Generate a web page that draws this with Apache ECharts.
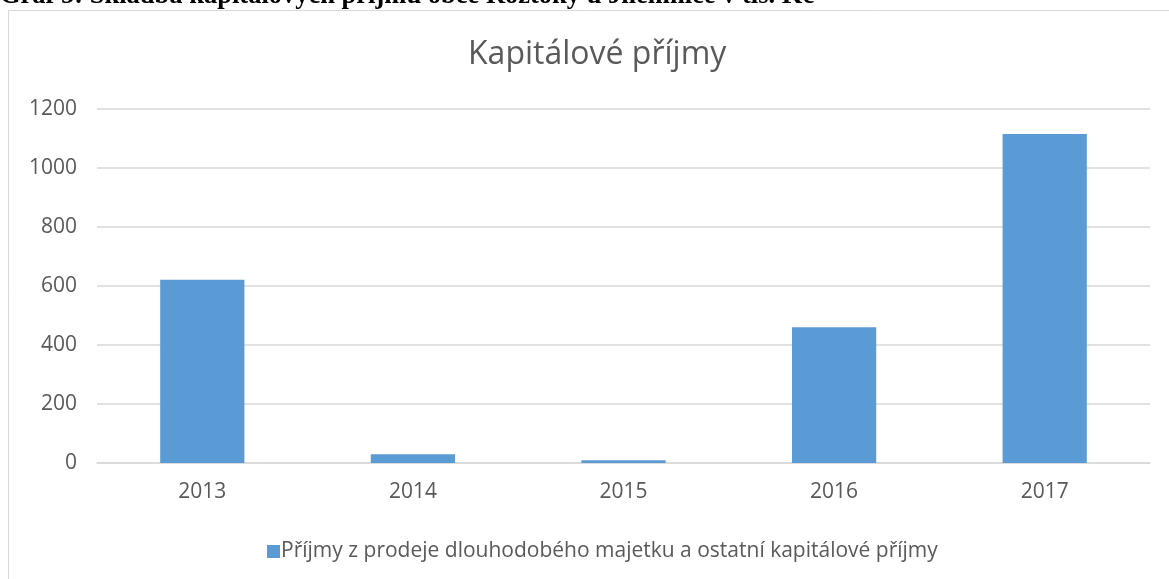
<!DOCTYPE html>
<html>
<head>
<meta charset="utf-8">
<script src="https://cdn.jsdelivr.net/npm/echarts@6/dist/echarts.min.js"></script>
<style>
  html, body { margin: 0; padding: 0; background: #fff; }
  #main { width: 1169px; height: 579px; }
</style>
</head>
<body>
<div id="main"></div>
<script>
// data
var years = ['2013', '2014', '2015', '2016', '2017'];
var prijmy = [621, 30, 9, 460, 1115];
var seriesName = 'Příjmy z prodeje dlouhodobého majetku a ostatní kapitálové příjmy';
var caption = 'Graf 5: Skladba kapitálových příjmů obce Roztoky u Jilemnice v tis. Kč';

var myChart = echarts.init(document.getElementById('main'));
var textColor = '#595959';
var gridColor = '#D9D9D9';

var option = {
  backgroundColor: '#fff',
  animation: false,
  title: {
    text: 'Kapitálové příjmy',
    left: 463,
    top: 34,
    textStyle: {
      fontFamily: 'Open Sans',
      fontWeight: 'normal',
      fontSize: 32,
      color: textColor
    }
  },
  graphic: [
    {
      // ramecek grafu
      type: 'rect',
      shape: { x: 8.5, y: 10.5, width: 1300, height: 700 },
      style: { fill: 'none', stroke: gridColor, lineWidth: 1 },
      silent: true
    },
    {
      // popisek nad grafem (oriznuty)
      type: 'text',
      left: 0,
      top: -17,
      style: {
        text: caption,
        fontFamily: 'Liberation Serif',
        fontWeight: 'bold',
        fontSize: 26.5,
        fill: '#000'
      }
    }
  ],
  legend: {
    left: 262,
    top: 536,
    icon: 'rect',
    itemWidth: 13,
    itemHeight: 13,
    textStyle: {
      fontFamily: 'Open Sans',
      fontSize: 21,
      color: textColor,
      padding: [0, 0, 0, -4]
    },
    data: [seriesName]
  },
  grid: {
    left: 97,
    right: 19,
    top: 109,
    bottom: 116
  },
  xAxis: {
    type: 'category',
    data: years,
    axisLine: { lineStyle: { color: gridColor, width: 1.5 } },
    axisTick: { show: false },
    axisLabel: {
      margin: 19,
      fontFamily: 'Open Sans',
      fontSize: 21,
      color: textColor
    }
  },
  yAxis: {
    type: 'value',
    min: 0,
    max: 1200,
    interval: 200,
    axisLine: { show: false },
    axisTick: { show: false },
    splitLine: { lineStyle: { color: gridColor, width: 1.5 } },
    axisLabel: {
      margin: 20,
      fontFamily: 'Open Sans',
      fontSize: 21,
      color: textColor,
      formatter: function (v) { return String(v); }
    }
  },
  series: [
    {
      name: seriesName,
      type: 'bar',
      barWidth: '40%',
      itemStyle: { color: '#5B9BD5' },
      data: prijmy
    }
  ]
};
myChart.setOption(option);
</script>
</body>
</html>
